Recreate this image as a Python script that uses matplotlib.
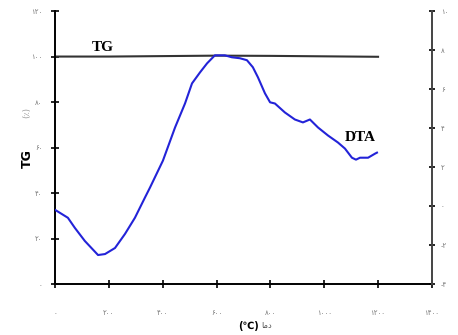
import matplotlib.pyplot as plt

# temperature (C) and readings
tg_temp = [0, 200, 400, 600, 800, 1000, 1200]
tg_mass = [100, 100, 100.2, 100.4, 100.3, 100.1, 99.9]

dta_temp = [0, 48, 74, 111, 160, 186, 223, 260, 297, 334, 353, 401, 446, 483,
            509, 539, 565, 594, 631, 657, 687, 713, 735, 754, 780, 799, 817,
            854, 891, 921, 947, 977, 1014, 1051, 1077, 1103, 1118, 1133,
            1163, 1189, 1196]
dta_signal = [-0.19, -0.60, -1.12, -1.79, -2.51, -2.46, -2.15, -1.43, -0.60,
              0.43, 0.95, 2.33, 4.03, 5.26, 6.29, 6.86, 7.32, 7.73, 7.73,
              7.63, 7.58, 7.48, 7.12, 6.60, 5.78, 5.32, 5.26, 4.80, 4.44,
              4.29, 4.44, 4.03, 3.62, 3.26, 2.95, 2.48, 2.38, 2.48, 2.48,
              2.69, 2.74]

fa = str.maketrans("0123456789", "۰۱۲۳۴۵۶۷۸۹")
x_ticks = [0, 200, 400, 600, 800, 1000, 1200, 1400]
tg_ticks = [0, 20, 40, 60, 80, 100, 120]
dta_ticks = [-4, -2, 0, 2, 4, 6, 8, 10]

fig = plt.figure(figsize=(4.58, 3.35), dpi=100)
ax = fig.add_axes([0.120, 0.152, 0.823, 0.815])
ax2 = ax.twinx()

ax.plot(tg_temp, tg_mass, color="#333333", lw=1.5)
ax2.plot(dta_temp, dta_signal, color="#2323d8", lw=1.5)

ax.set_xlim(0, 1400)
ax.set_ylim(0, 120)
ax2.set_ylim(-4, 10)

tick_font = dict(family="DejaVu Sans", fontsize=5, color="#777777")
ax.set_xticks(x_ticks)
ax.set_xticklabels([str(v).translate(fa) for v in x_ticks], **tick_font)
ax.set_yticks(tg_ticks)
ax.set_yticklabels([str(v).translate(fa) for v in tg_ticks], **tick_font)
ax2.set_yticks(dta_ticks)
ax2.set_yticklabels([str(v).translate(fa) for v in dta_ticks], **tick_font)

for a in (ax, ax2):
    a.spines["top"].set_visible(False)
    for s in ("left", "right", "bottom"):
        a.spines[s].set_linewidth(1.4)
ax.spines["right"].set_visible(False)
ax2.spines["left"].set_visible(False)
ax2.spines["bottom"].set_visible(False)
ax2.spines["right"].set_color("#444444")

ax.tick_params(axis="x", direction="inout", length=6, width=1.2, pad=16)
ax.tick_params(axis="y", direction="inout", length=6, width=1.2, pad=6)
ax2.tick_params(axis="y", direction="inout", length=5, width=1.2, pad=4)

ax.text(178, 104, "TG", family="Liberation Serif", fontweight="bold",
        fontsize=11, ha="center", va="center")
ax2.text(1133, 3.5, "DTA", family="Liberation Serif", fontweight="bold",
         fontsize=11, ha="center", va="center")

# axis labels
fig.text(0.059, 0.528, "TG", rotation=90, fontweight="bold", fontsize=9,
         ha="center", va="center")
fig.text(0.059, 0.663, "(٪)", rotation=90, fontsize=6, color="#999999",
         ha="center", va="center")
fig.text(0.565, 0.028, "(℃)", fontweight="bold", fontsize=7,
         ha="right", va="center")
fig.text(0.57, 0.028, "\uFE8E\uFEE3\uFEA9", fontsize=6, color="#555555",
         ha="left", va="center")

fig.savefig("out.png", dpi=100)
